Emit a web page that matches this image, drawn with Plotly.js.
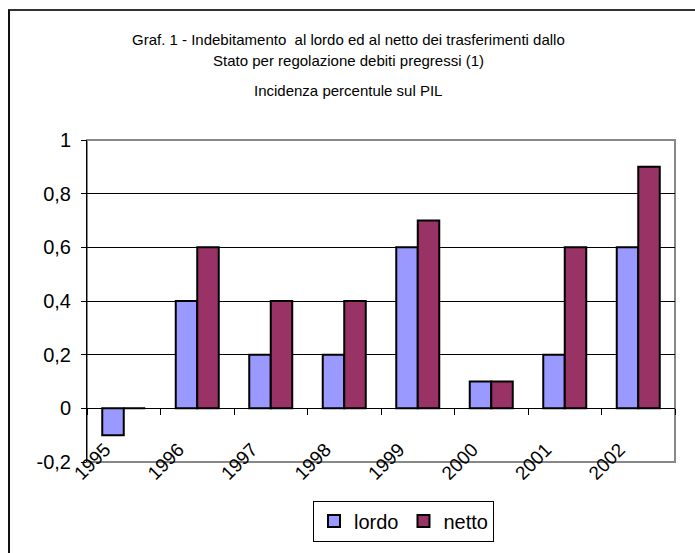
<!DOCTYPE html>
<html>
<head>
<meta charset="utf-8">
<script src="https://cdn.plot.ly/plotly-3.0.1.min.js"></script>
<style>
html,body{margin:0;padding:0;background:#fff;}
#chart{width:695px;height:553px;position:relative;}
#frame{position:absolute;left:8px;top:9px;width:700px;height:560px;border-top:2px solid #333;border-left:2px solid #111;pointer-events:none;}
</style>
</head>
<body>
<div id="chart"></div>
<div id="frame"></div>
<script>
const years = ['1995','1996','1997','1998','1999','2000','2001','2002'];
const lordo = [-0.1, 0.4, 0.2, 0.2, 0.6, 0.1, 0.2, 0.6];
const netto = [0, 0.6, 0.4, 0.4, 0.7, 0.1, 0.6, 0.9];
const yTickVals = [-0.2, 0, 0.2, 0.4, 0.6, 0.8, 1];
const yTickText = ['-0,2', '0', '0,2', '0,4', '0,6', '0,8', '1'];
const titleLines = [
  'Graf. 1 - Indebitamento  al lordo ed al netto dei trasferimenti dallo',
  'Stato per regolazione debiti pregressi (1)',
  'Incidenza percentule sul PIL'
];

const W = 695, H = 553, L = 87, R = 20, T = 140, B = 87;
const pw = W - L - R, ph = H - T - B;
const px = x => (x - L) / pw;
const py = y => (H - B - y) / ph;

const font = 'Liberation Sans, Arial, sans-serif';
const pad = '\u00a0\u00a0\u00a0\u00a0\u00a0';

const traces = [
  {type:'bar', name:'lordo', x:years, y:lordo,
   marker:{color:'#9999FF', line:{color:'#000', width:2}}},
  {type:'bar', name:'netto', x:years, y:netto,
   marker:{color:'#993366', line:{color:'#000', width:2}}}
];

const titleY = [38, 60, 90];
const annotations = titleLines.map((t, i) => ({
  text: t, xref:'paper', yref:'paper', x: px(348), y: py(titleY[i]),
  xanchor:'center', yanchor:'middle', showarrow:false,
  font:{family: font, size:15, color:'#000'}
}));

const layout = {
  width: W, height: H,
  margin:{l:L, r:R, t:T, b:B, pad:0},
  paper_bgcolor:'#fff', plot_bgcolor:'#fff',
  barmode:'group', bargap:0.415, bargroupgap:0,
  showlegend:true,
  legend:{orientation:'h', x:px(403.5), xanchor:'center', y:py(505), yanchor:'top',
    bordercolor:'#000', borderwidth:1, font:{family:font, size:20, color:'#000'},
    itemwidth:30, traceorder:'normal'},
  font:{family:font, color:'#000'},
  xaxis:{type:'category', anchor:'free', position:0.2/1.2,
    tickvals:years, ticktext:years.map(y => y + pad),
    showline:true, linecolor:'#000', linewidth:1,
    ticks:'outside', ticklen:6, tickwidth:1, tickcolor:'#000', tickson:'boundaries',
    tickangle:-45, tickfont:{family:font, size:19, color:'#000'},
    ticklabelstandoff:3,
    showgrid:false, zeroline:false, fixedrange:true},
  yaxis:{range:[-0.2, 1], tickvals:yTickVals, ticktext:yTickText,
    showline:true, linecolor:'#000', linewidth:1,
    ticks:'outside', ticklen:5, tickcolor:'#000',
    tickfont:{family:font, size:20, color:'#000'}, ticklabelstandoff:6,
    showgrid:true, gridcolor:'#000', gridwidth:1,
    zeroline:true, zerolinecolor:'#000', zerolinewidth:1, fixedrange:true},
  shapes:[
    {type:'rect', xref:'paper', yref:'paper', x0:0, x1:1, y0:0, y1:1,
     line:{color:'#888', width:2}, layer:'below'}
  ],
  annotations: annotations
};

Plotly.newPlot('chart', traces, layout, {displayModeBar:false, staticPlot:true});
</script>
</body>
</html>
